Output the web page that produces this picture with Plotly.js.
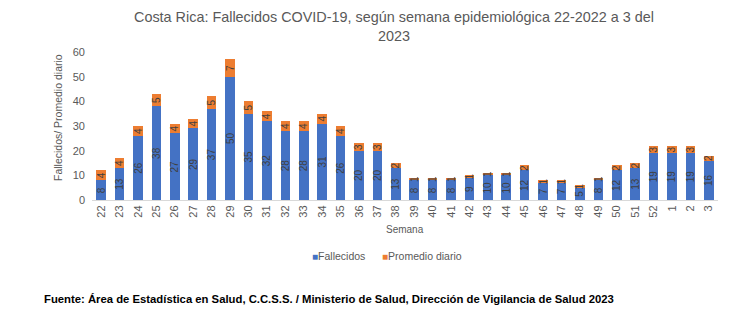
<!DOCTYPE html>
<html>
<head>
<meta charset="utf-8">
<script src="https://cdn.plot.ly/plotly-3.0.1.min.js"></script>
<style>html,body{margin:0;padding:0;background:#fff;}#chart{width:734px;height:324px;}</style>
</head>
<body>
<div id="chart"></div>
<script>
const semanas = ["22","23","24","25","26","27","28","29","30","31","32","33","34","35","36","37","38","39","40","41","42","43","44","45","46","47","48","49","50","51","52","1","2","3"];
const fallecidos = [8,13,26,38,27,29,37,50,35,32,28,28,31,26,20,20,13,8,8,8,9,10,10,12,7,7,5,8,12,13,19,19,19,16];
const promedio = [4,4,4,5,4,4,5,7,5,4,4,4,4,4,3,3,2,1,1,1,1,1,1,2,1,1,1,1,2,2,3,3,3,2];
const serieNombres = ["Fallecidos", "Promedio diario"];
const serieColores = ["#4472C4", "#ED7D31"];

const L = 92, R = 16, T = 52, B = 124, W = 734, H = 324;
const pw = W - L - R, ph = H - T - B;
const px = x => (x - L) / pw;
const py = y => (H - B - y) / ph;

const txtFont = {family: "Liberation Sans, Arial, sans-serif", size: 10, color: "#404040"};
const traces = [
  {type: "bar", name: serieNombres[0], x: semanas, y: fallecidos, marker: {color: serieColores[0]},
   text: fallecidos.map(String), textposition: "inside", insidetextanchor: "middle", textangle: -90,
   constraintext: "none", textfont: txtFont, hoverinfo: "x+y"},
  {type: "bar", name: serieNombres[1], x: semanas, y: promedio, marker: {color: serieColores[1]},
   text: promedio.map(String), textposition: "inside", insidetextanchor: "middle", textangle: -90,
   constraintext: "none", textfont: txtFont, hoverinfo: "x+y"}
];

const legendX = [310, 380];
const legendAnn = serieNombres.map((n, i) => ({
  text: '<span style="color:' + serieColores[i] + ';font-size:10px">■</span>' + n,
  xref: "paper", yref: "paper", x: px(legendX[i]), y: py(256), xanchor: "left", yanchor: "middle",
  showarrow: false, font: {size: 10.5, color: "#595959"}
}));

const layout = {
  width: W, height: H,
  margin: {l: L, r: R, t: T, b: B, pad: 0},
  paper_bgcolor: "#fff", plot_bgcolor: "#fff",
  barmode: "stack", bargap: 0.48,
  font: {family: "Liberation Sans, Arial, sans-serif", color: "#595959", size: 11},
  title: {text: "Costa Rica: Fallecidos COVID-19, según semana epidemiológica 22-2022 a 3 del<br>2023",
          font: {family: "Liberation Sans, sans-serif", size: 14.4, color: "#595959"},
          x: 394 / W, xanchor: "center", y: 1 - 22 / H, yanchor: "middle"},
  xaxis: {type: "category", showline: true, linecolor: "#d9d9d9", linewidth: 1, ticks: "",
          tickangle: -90, tickfont: {size: 11, color: "#595959"}, showgrid: false, fixedrange: true},
  yaxis: {range: [0, 60], dtick: 10, showline: false, showgrid: false, zeroline: false, ticks: "",
          tickfont: {size: 11, color: "#595959"}, ticklabelstandoff: 6, fixedrange: true},
  showlegend: false,
  annotations: legendAnn.concat([
    {text: "Fallecidos/ Promedio diario", textangle: -90, xref: "paper", yref: "paper",
     x: px(58), y: py(118), xanchor: "center", yanchor: "middle", showarrow: false,
     font: {family: "Liberation Sans, sans-serif", size: 10.5, color: "#595959"}},
    {text: "Semana", xref: "paper", yref: "paper", x: px(405), y: py(229),
     xanchor: "center", yanchor: "middle", showarrow: false, font: {size: 10, color: "#595959"}},
    {text: "<b>Fuente: Área de Estadística en Salud, C.C.S.S. / Ministerio de Salud, Dirección de Vigilancia de Salud 2023</b>",
     xref: "paper", yref: "paper", x: px(42), y: py(299), xanchor: "left", yanchor: "middle", showarrow: false,
     font: {family: "Liberation Sans, sans-serif", size: 11.3, color: "#000"}}
  ])
};

Plotly.newPlot("chart", traces, layout, {displayModeBar: false, staticPlot: true});
</script>
</body>
</html>
